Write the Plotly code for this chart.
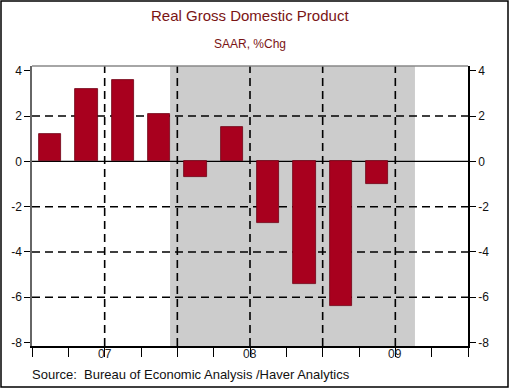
import plotly.graph_objects as go

quarters = ["2007Q1", "2007Q2", "2007Q3", "2007Q4", "2008Q1", "2008Q2",
            "2008Q3", "2008Q4", "2009Q1", "2009Q2"]
gdp_chg = [1.2, 3.2, 3.6, 2.1, -0.7, 1.5, -2.7, -5.4, -6.4, -1.0]
year_labels = ["07", "08", "09"]
year_label_pos = [2, 6, 10]          # mid-year, in quarter units from 2007Q1
y_ticks = [-8, -6, -4, -2, 0, 2, 4]
y_tick_text = ["-8", "-6", "-4", "-2", "0", "2", "4"]
grid_y = [-6, -4, -2, 2]
grid_x = [2, 4, 6, 8, 10]
recession = [3.8, 10.54]

x_pos = [i + 0.5 for i in range(len(quarters))]

W, H = 510, 389
L, R, T, B = 32, 42, 66, 43
pw, ph = W - L - R, H - T - B

def px_x(p):
    return (p - L) / pw

def px_y(p):
    return (H - B - p) / ph

BAR = "#A8001E"
TITLE = "#7A1414"

fig = go.Figure()
fig.add_trace(go.Bar(
    x=x_pos, y=gdp_chg, width=0.62, customdata=quarters,
    marker=dict(color=BAR, line=dict(color="#6E0014", width=0.8)),
    hovertemplate="%{customdata}: %{y}<extra></extra>",
))
fig.add_trace(go.Scatter(x=[0], y=[0], yaxis="y2", mode="markers",
                         marker=dict(opacity=0), showlegend=False,
                         hoverinfo="skip"))

shapes = []
shapes.append(dict(type="rect", xref="x", yref="paper", x0=recession[0],
                   x1=recession[1], y0=0, y1=1, fillcolor="#CCCCCC",
                   line=dict(width=0), layer="below"))
for g in grid_y:
    shapes.append(dict(type="line", xref="paper", yref="y", x0=0, x1=1,
                       y0=g, y1=g, layer="below",
                       line=dict(color="#000000", width=1.6, dash="8px,5px")))
for g in grid_x:
    shapes.append(dict(type="line", xref="x", yref="paper", x0=g, x1=g,
                       y0=0, y1=1, layer="below",
                       line=dict(color="#000000", width=1.6, dash="8px,5px")))
shapes.append(dict(type="line", xref="paper", yref="y", x0=0, x1=1, y0=0,
                   y1=0, layer="below", line=dict(color="#000000", width=1.4)))
# top border of plot
shapes.append(dict(type="line", xref="paper", yref="paper", x0=0, x1=1, y0=1,
                   y1=1, line=dict(color="#888888", width=1.5)))
# outer frame
shapes.append(dict(type="rect", xref="paper", yref="paper",
                   x0=px_x(1), x1=px_x(508), y0=px_y(387), y1=px_y(1),
                   line=dict(color="#000000", width=1.5)))

annotations = [
    dict(text="Real Gross Domestic Product", xref="paper", yref="paper",
         x=px_x(250), y=px_y(16), showarrow=False, xanchor="center",
         yanchor="middle", font=dict(family="Arial", size=15, color=TITLE)),
    dict(text="SAAR, %Chg", xref="paper", yref="paper",
         x=px_x(250), y=px_y(44), showarrow=False, xanchor="center",
         yanchor="middle", font=dict(family="Arial", size=12, color=TITLE)),
    dict(text="Source:  Bureau of Economic Analysis /Haver Analytics",
         xref="paper", yref="paper", x=px_x(30), y=px_y(374),
         showarrow=False, xanchor="left", yanchor="middle",
         font=dict(family="Arial", size=13, color="#111111")),
]
for lab, pos in zip(year_labels, year_label_pos):
    annotations.append(dict(text=lab, xref="x", yref="paper", x=pos,
                            y=px_y(354), showarrow=False, xanchor="center",
                            yanchor="middle",
                            font=dict(family="Arial", size=12, color="#222222")))

yr = [-8.15, 4.21]
tickfont = dict(family="Arial", size=12, color="#111111")
fig.update_layout(
    width=W, height=H, margin=dict(l=L, r=R, t=T, b=B, pad=0),
    paper_bgcolor="white", plot_bgcolor="white", showlegend=False,
    bargap=0,
    xaxis=dict(range=[0, 12], tickvals=list(range(13)),
               ticktext=[""] * 13, ticks="outside", ticklen=9, tickwidth=1.4,
               tickcolor="#000000", showgrid=False, zeroline=False,
               showline=True, linecolor="#000000", linewidth=1.5,
               fixedrange=True),
    yaxis=dict(range=yr, tickvals=y_ticks, ticktext=y_tick_text,
               ticks="outside", ticklen=6,
               tickwidth=1.2, tickcolor="#000000", showgrid=False,
               zeroline=False, showline=True, linecolor="#666666",
               linewidth=1.5, tickfont=tickfont, fixedrange=True),
    yaxis2=dict(range=yr, tickvals=y_ticks, ticktext=y_tick_text,
                overlaying="y", side="right",
                ticks="outside", ticklen=6, tickwidth=1.2,
                tickcolor="#000000", showgrid=False, zeroline=False,
                showline=True, linecolor="#000000", linewidth=1.5,
                tickfont=tickfont, fixedrange=True),
    shapes=shapes, annotations=annotations,
)

fig.write_html("out.html", config={"displayModeBar": False},
               post_script="document.body.style.margin='0';")
